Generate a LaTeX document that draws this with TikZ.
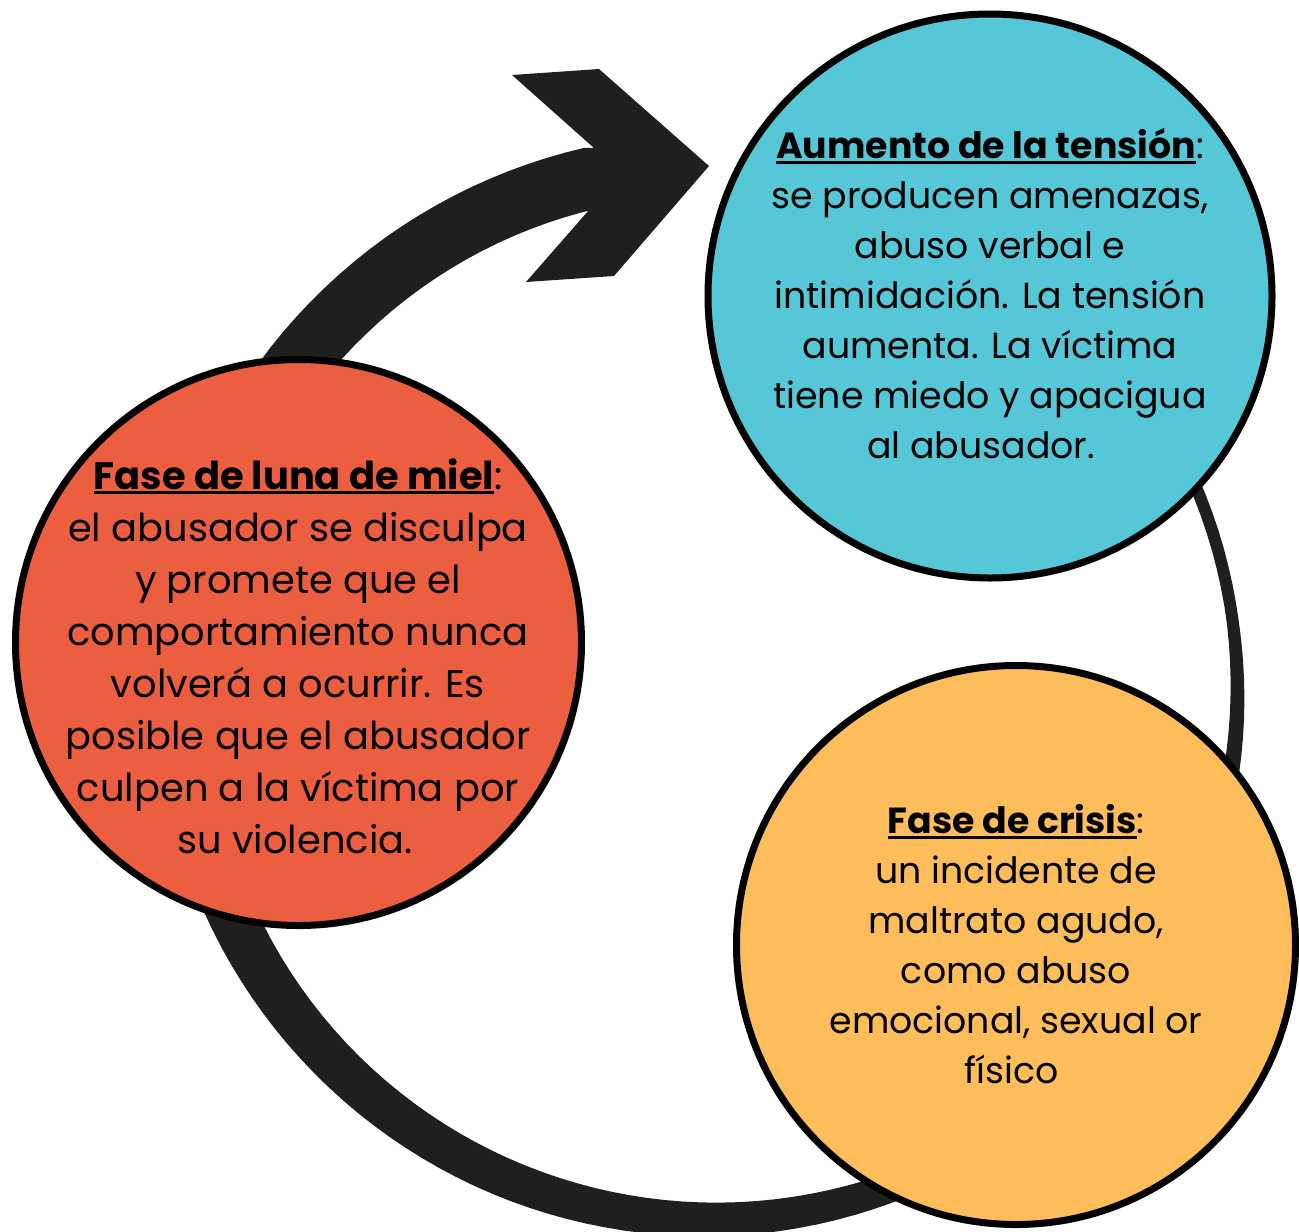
\documentclass[tikz,border=0pt]{standalone}
\usepackage{fontspec}
\setmainfont{Poppins}
\definecolor{cBlue}{HTML}{56C7D7}
\definecolor{cRed}{HTML}{EC5E40}
\definecolor{cOrange}{HTML}{FDBD5B}
\definecolor{cArc}{HTML}{1F1F1D}
\newcommand\ulbf[1]{\setbox0\hbox{\bfseries #1}\rlap{\rule[-5pt]{\wd0}{3pt}}\box0}
\begin{document}
\begin{tikzpicture}[x=1pt,y=-1pt,
  declare function={wd(\t)=12+50*min(1,max(0,(\t-20)/225));
                    ro(\t)=527.5+0.5*wd(\t);
                    ri(\t)=527.5-0.5*wd(\t);},
  phase/.style={circle, draw=black, line width=7pt, inner sep=0pt},
  phasetext/.style={align=center, inner sep=0pt, font=\fontsize{36.3}{50}\selectfont}]
\useasboundingbox (0,0) rectangle (1299,1232);
% tapered cycle arrow
\fill[cArc]
  plot[domain=0:285, samples=140, variable=\t]
    ({710+ro(\t)*cos(28-\t)}, {692-ro(\t)*sin(28-\t)})
  -- (594,148) -- (512,75) -- (599,69) -- (709,166) -- (614,276) -- (526,282) -- (589,210)
  -- plot[domain=0:285, samples=140, variable=\t]
    ({710+ri(285-\t)*cos(28-285+\t)}, {692-ri(285-\t)*sin(28-285+\t)})
  -- cycle;
% phases
\node[phase, fill=cBlue, minimum size=564pt] (tension) at (990,296) {};
\node[phase, fill=cRed, minimum size=566pt] (honeymoon) at (298.5,642.5) {};
\node[phase, fill=cOrange, minimum size=559pt] (crisis) at (1016,945) {};
\node[phasetext] (tensionText) at (990,294) {\ulbf{Aumento de la tensión}:\\
se producen amenazas,\\
abuso verbal e\\
intimidación. La tensión\\
aumenta. La víctima\\
tiene miedo y apacigua\\
al abusador.\hspace*{18pt}};
\node[phasetext, font=\fontsize{38.4}{52}\selectfont] (honeymoonText) at (298,656) {\ulbf{Fase de luna de miel}:\\
el abusador se disculpa\\
y promete que el\\
comportamiento nunca\\
volverá a ocurrir. Es\\
posible que el abusador\\
culpen a la víctima por\\
su violencia.\hspace*{6pt}};
\node[phasetext] (crisisText) at (1016,944.5) {\ulbf{Fase de crisis}:\\
un incidente de\\
maltrato agudo,\\
como abuso\\
emocional, sexual or\\
físico\hspace*{8pt}};
\end{tikzpicture}
\end{document}
